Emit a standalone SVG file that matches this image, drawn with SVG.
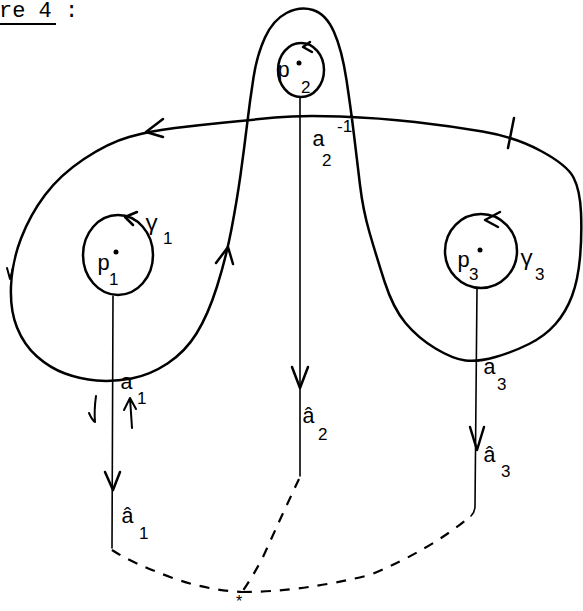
<svg xmlns="http://www.w3.org/2000/svg" width="583" height="611" viewBox="0 0 583 611">
<style>
.ln{fill:none;stroke:#000;stroke-width:2.5;stroke-linecap:round;stroke-linejoin:round}
.th{fill:none;stroke:#000;stroke-width:1.6;stroke-linecap:round}
.ds{fill:none;stroke:#000;stroke-width:2.2;stroke-dasharray:10 9}
.t{font-family:"Liberation Mono","DejaVu Sans Mono",monospace;font-size:22px;fill:#000}
.s{font-family:"Liberation Sans","DejaVu Sans",sans-serif;font-size:17px;fill:#000}
</style>
<rect width="583" height="611" fill="#fff"/>
<g id="title">
<text x="-1" y="17" style="font-family:'Liberation Mono',monospace;font-size:22px">re 4 :</text>
<line x1="0" y1="24" x2="56" y2="24" stroke="#000" stroke-width="2"/>
</g>
<g id="connectors">
<path id="loop" class="ln" d="M 581,212.5 Q 580,190 573.5,177.5 Q 567,165 541,151 Q 515,137 482.5,131.5 Q 450,126 415,122 Q 380,118 340,116.5 Q 300,115 275,117.5 Q 250,120 225,122.5 Q 200,125 175,128 Q 150,131 129,137 Q 108,143 84,159 Q 60,175 45,195 Q 30,215 21,238.5 Q 12,262 11,286 Q 10,310 17,327.5 Q 24,345 37,356.5 Q 50,368 65,373.5 Q 80,379 96.5,380.5 Q 113,382 131.5,378.5 Q 150,375 167.5,363.5 Q 185,352 196.5,333.5 Q 208,315 217,286.5 Q 226,258 231.5,229 Q 237,200 240.5,175 Q 244,150 247,125 Q 250,100 253.5,77.5 Q 257,55 265,37.5 Q 273,20 286.5,13 Q 300,6 313,10 Q 326,14 334,32 Q 342,50 346.5,80 Q 351,110 354,135 Q 357,160 360,185 Q 363,210 369.5,232.5 Q 376,255 384.5,281.5 Q 393,308 405.5,323 Q 418,338 435.5,348.5 Q 453,359 465.5,360.5 Q 478,362 495.5,357 Q 513,352 529,344 Q 545,336 555.5,324 Q 566,312 572,296 Q 578,280 580,257.5 Q 582,235 581,212.5 Z"/>
<polyline class="ln" points="163,119 146,132 163,137"/>
<polyline class="ln" points="216,263 228,247 233,264"/>
<polyline class="ln" points="7,268 10,279 13,268" style="stroke-width:2"/>
<line class="ln" x1="508" y1="148" x2="514" y2="118"/>
<line class="th" x1="113" y1="296" x2="112" y2="548"/>
<line class="th" x1="300" y1="97" x2="300" y2="476"/>
<path class="th" d="M 477,288 L 475,506 Q 475,512 471,516"/>
<polyline class="ln" points="105,472 113,490 120,472"/>
<polyline class="ln" points="292,367 300,388 308,367"/>
<polyline class="ln" points="470,427 477,450 484,427"/>
<path class="ln" d="M 96,396 Q 94,410 95,422 Q 92,420 89,413" style="stroke-width:2"/>
<path class="ln" d="M 132,428 L 130,398 M 124,410 L 130,398 L 136,409" style="stroke-width:2"/>
<path class="ds" d="M 112,550 Q 130,562 170,577 Q 205,590 242,592"/>
<path class="ds" d="M 299,479 Q 282,515 263,557 Q 252,578 242,592"/>
<path class="ds" d="M 242,592 Q 300,592 370,575 Q 430,550 471,516"/>
</g>
<g id="p1">
<ellipse class="ln" cx="118" cy="255" rx="35" ry="40"/>
<polyline class="ln" points="137,212 125,217 133,225"/>
<circle cx="116" cy="252" r="2.5"/>
<text class="t" x="97" y="270">p</text>
<text class="s" x="109" y="285">1</text>
<text class="t" x="145" y="230">γ</text>
<text class="s" x="163" y="244">1</text>
</g>
<g id="p2">
<ellipse class="ln" cx="301" cy="70" rx="23" ry="27"/>
<polyline class="ln" points="310,42 303,47 312,52"/>
<circle cx="299" cy="63" r="2.5"/>
<text class="t" x="277" y="77">p</text>
<text class="s" x="301" y="93">2</text>
</g>
<g id="p3">
<ellipse class="ln" cx="481" cy="251" rx="36" ry="37"/>
<polyline class="ln" points="500,212 485,220 498,227"/>
<circle cx="480" cy="250" r="2.5"/>
<text class="t" x="457" y="267">p</text>
<text class="s" x="469" y="280">3</text>
<text class="t" x="520" y="265">γ</text>
<text class="s" x="535" y="280">3</text>
</g>
<g id="labels">
<text class="t" x="312" y="146">a</text>
<text class="s" x="322" y="166">2</text>
<text class="s" x="337" y="132">-1</text>
<text class="t" x="120" y="389">a</text>
<text class="s" x="137" y="404">1</text>
<text class="t" x="483" y="374">a</text>
<text class="s" x="497" y="390">3</text>
<text class="t" x="302" y="423">â</text>
<text class="s" x="318" y="440">2</text>
<text class="t" x="121" y="523">â</text>
<text class="s" x="139" y="539">1</text>
<text class="t" x="483" y="462">â</text>
<text class="s" x="501" y="477">3</text>
<text class="s" x="236" y="607" style="font-size:16px">*</text>
</g>
</svg>
